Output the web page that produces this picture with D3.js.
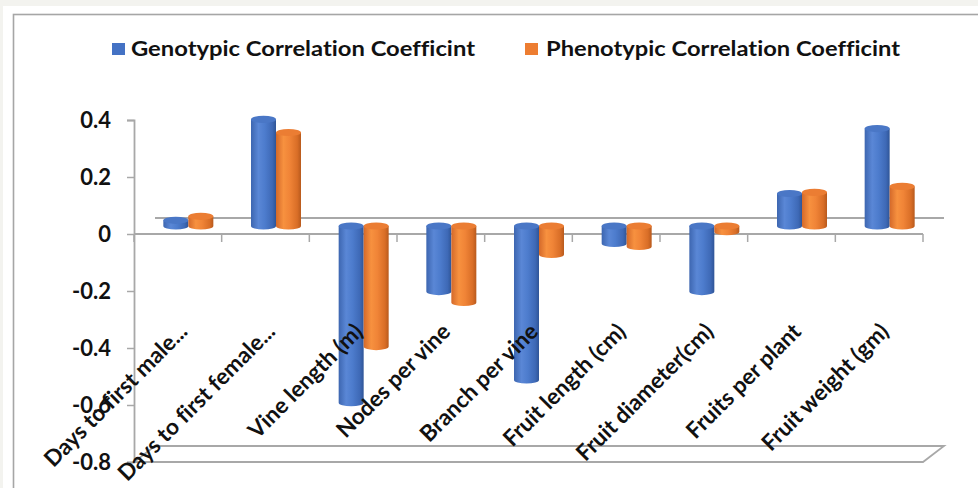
<!DOCTYPE html>
<html>
<head>
<meta charset="utf-8">
<script src="https://cdn.jsdelivr.net/npm/d3@7/dist/d3.min.js"></script>
<style>
  html, body { margin: 0; padding: 0; background: #f3f3ef; }
  svg { display: block; }
  text { font-variant-ligatures: none; }
</style>
</head>
<body>
<svg id="chart" width="978" height="488"></svg>
<script>
// ---------- data ----------
const categories = [
  "Days to first male...",
  "Days to first female...",
  "Vine length (m)",
  "Nodes per vine",
  "Branch per vine",
  "Fruit length (cm)",
  "Fruit diameter(cm)",
  "Fruits per plant",
  "Fruit weight (gm)"
];
const seriesNames = ["Genotypic Correlation Coefficint", "Phenotypic Correlation Coefficint"];
const genotypic  = [0.02, 0.374, -0.62, -0.23, -0.54, -0.061, -0.23, 0.114, 0.342];
const phenotypic = [0.034, 0.328, -0.423, -0.268, -0.10, -0.072, -0.02, 0.118, 0.139];
const yTicks = [0.4, 0.2, 0, -0.2, -0.4, -0.6, -0.8];
const yTickLabels = ["0.4", "0.2", "0", "-0.2", "-0.4", "-0.6", "-0.8"];

// ---------- layout ----------
const svg = d3.select("#chart");
const W = 978, H = 488;
const plotLeft = 134, plotRight = 923;
const depthX = 21, depthY = -16;        // 3D depth offset of the back plane
const font = "Lato, 'Open Sans', sans-serif";
const gridColor = "#a8a8a8";

const y = d3.scaleLinear().domain([-0.8, 0.4]).range([462, 120]);
const x = d3.scaleBand().domain(categories).range([plotLeft, plotRight]).paddingInner(0).paddingOuter(0);
const sx = d3.scaleBand().domain(seriesNames).range([-25, 25]);

// page background / frame
svg.append("rect").attr("x", 3).attr("y", 6).attr("width", W).attr("height", H).attr("fill", "#ffffff");
svg.append("rect").attr("x", 13.5).attr("y", 14.5).attr("width", W + 20).attr("height", H + 20)
  .attr("fill", "#ffffff").attr("stroke", "#a6a6a6").attr("stroke-width", 1.6);

// defs: gradients
const defs = svg.append("defs");
function grad(id, stops) {
  const g = defs.append("linearGradient").attr("id", id).attr("x1", "0%").attr("x2", "100%").attr("y1", "0%").attr("y2", "0%");
  stops.forEach(s => g.append("stop").attr("offset", s[0]).attr("stop-color", s[1]));
}
grad("gBlue", [["0%", "#3d66b0"], ["30%", "#5a87d6"], ["55%", "#4d7ccd"], ["85%", "#3e69b6"], ["100%", "#2f5597"]]);
grad("gOrange", [["0%", "#d4692a"], ["30%", "#f7913f"], ["55%", "#f08437"], ["85%", "#d96e27"], ["100%", "#b85a1d"]]);
const bodyFill = ["url(#gBlue)", "url(#gOrange)"];
const topFill = ["#4a77c6", "#eb7d33"];

// floor (at -0.8)
const yMin = y(-0.8);
svg.append("path")
  .attr("d", `M${plotLeft},${yMin} L${plotRight},${yMin} L${plotRight + depthX},${yMin + depthY} L${plotLeft + depthX},${yMin + depthY} Z`)
  .attr("fill", "none").attr("stroke", gridColor).attr("stroke-width", 1.8);

// back zero gridline
svg.append("line")
  .attr("x1", plotLeft + depthX).attr("x2", plotRight + depthX)
  .attr("y1", y(0) + depthY).attr("y2", y(0) + depthY)
  .attr("stroke", gridColor).attr("stroke-width", 1.8);

// front zero axis line
svg.append("line")
  .attr("x1", plotLeft).attr("x2", plotRight)
  .attr("y1", y(0)).attr("y2", y(0))
  .attr("stroke", gridColor).attr("stroke-width", 1.8);

// category tick marks
const bounds = categories.map(c => x(c) + x.bandwidth()).concat([plotLeft]);
svg.selectAll(".xt").data(bounds).enter().append("line")
  .attr("x1", d => d).attr("x2", d => d)
  .attr("y1", y(0)).attr("y2", y(0) + 8)
  .attr("stroke", gridColor).attr("stroke-width", 1.5);

// y axis
const yAxisG = svg.append("g").attr("transform", `translate(${plotLeft},0)`)
  .call(d3.axisLeft(y).tickValues(yTicks).tickSize(7).tickPadding(16)
    .tickFormat((d, i) => yTickLabels[i]));
yAxisG.select(".domain").attr("stroke", gridColor).attr("stroke-width", 1.8);
yAxisG.selectAll(".tick line").attr("stroke", gridColor).attr("stroke-width", 1.5);
yAxisG.selectAll(".tick text").attr("font-family", font).attr("font-weight", "bold")
  .attr("font-size", 22).attr("fill", "#111").attr("dy", "0.36em");

// cylinders
const rx = 12.5, ry = 3.6;
const base = y(0) + depthY / 2;
const shift = depthX / 2;
const bars = [];
categories.forEach((c, i) => {
  [genotypic[i], phenotypic[i]].forEach((v, s) => {
    bars.push({ c, s, v, cx: x(c) + x.bandwidth() / 2 + shift + sx(seriesNames[s]) + sx.bandwidth() / 2 });
  });
});
const barG = svg.append("g");
bars.forEach(b => {
  const yv = y(b.v) + depthY / 2;
  const yTop = Math.min(yv, base), yBot = Math.max(yv, base);
  const g = barG.append("g");
  g.append("path")
    .attr("d", `M${b.cx - rx},${yTop} L${b.cx - rx},${yBot} A${rx},${ry} 0 0 0 ${b.cx + rx},${yBot} L${b.cx + rx},${yTop} Z`)
    .attr("fill", bodyFill[b.s]);
  g.append("ellipse").attr("cx", b.cx).attr("cy", yTop).attr("rx", rx).attr("ry", ry)
    .attr("fill", topFill[b.s]);
});

// category labels
svg.selectAll(".cl").data(categories).enter().append("text")
  .attr("transform", d => `translate(${x(d) + x.bandwidth() / 2 + 11},${333}) rotate(-45)`)
  .attr("text-anchor", "end")
  .attr("font-family", font).attr("font-weight", "bold").attr("font-size", 22.5)
  .attr("fill", "#111")
  .text(d => d);

// legend
const legend = [
  { name: seriesNames[0], color: "#4472c4", sqx: 112, tx: 131, tw: 344 },
  { name: seriesNames[1], color: "#ed7d31", sqx: 525, tx: 546, tw: 354 }
];
legend.forEach(l => {
  svg.append("rect").attr("x", l.sqx).attr("y", 43).attr("width", 13).attr("height", 12).attr("fill", l.color);
  svg.append("text").attr("x", l.tx).attr("y", 55.5)
    .attr("font-family", font).attr("font-weight", "bold").attr("font-size", 20)
    .attr("fill", "#111")
    .attr("textLength", l.tw).attr("lengthAdjust", "spacingAndGlyphs")
    .text(l.name);
});
</script>
</body>
</html>
